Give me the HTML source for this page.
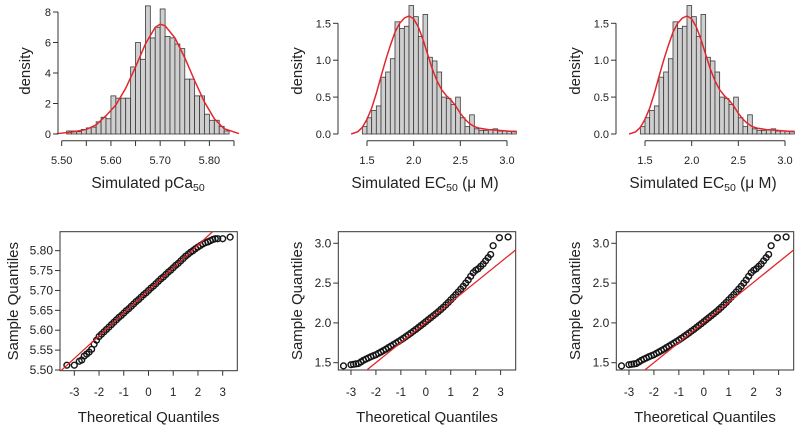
<!DOCTYPE html>
<html><head><meta charset="utf-8"><style>
html,body{margin:0;padding:0;background:#fff;}
svg{display:block;font-family:"Liberation Sans",Arial,sans-serif;}
</style></head><body>
<svg id="chart" width="800" height="428" viewBox="0 0 800 428" xmlns="http://www.w3.org/2000/svg">
<defs>
<clipPath id="clipL"><rect x="60" y="231.7" width="177.3" height="139"/></clipPath>
<clipPath id="clipM"><rect x="338.3" y="231.7" width="177.4" height="138.3"/></clipPath>
<clipPath id="clipR"><rect x="616.3" y="231.7" width="177.4" height="138.3"/></clipPath>
</defs>
</svg>
<script>
// ---- data ----
const pcaBinStart = 5.51;
const pcaBinWidth = 0.01;
const pcaDensity = [0.2,0.2,0.15,0.3,0.4,0.45,0.8,1.1,1.0,2.5,2.35,2.35,2.35,4.4,6.0,4.9,8.4,6.3,7.0,8.2,6.4,6.3,5.9,5.6,3.6,3.6,2.5,2.5,1.3,0.9,0.9,0.5,0.2];
const pcaCurveX = [5.49,5.52,5.55,5.57,5.59,5.61,5.63,5.65,5.67,5.69,5.70,5.71,5.73,5.75,5.77,5.79,5.81,5.83,5.86];
const pcaCurveY = [0.02,0.12,0.3,0.6,1.2,1.9,3.0,4.4,5.9,7.0,7.2,7.1,6.3,5.0,3.5,2.1,1.0,0.35,0.03];
const pcaXTicks = [5.50,5.55,5.60,5.65,5.70,5.75,5.80,5.85];
const pcaXLabels = ["5.50","","5.60","","5.70","","5.80",""];
const pcaYTicks = [0,2,4,6,8];

const ecBinStart = 1.45;
const ecBinWidth = 0.05;
const ecDensity = [0.1,0.22,0.32,0.38,0.77,0.84,1.02,1.52,1.43,1.46,1.74,1.59,1.32,1.62,1.04,0.99,0.84,0.5,0.48,0.4,0.5,0.22,0.1,0.26,0.07,0.05,0.05,0.06,0.07,0.04,0.04,0.04,0.04];
const ecCurveX = [1.33,1.40,1.45,1.50,1.55,1.60,1.65,1.70,1.75,1.80,1.85,1.90,1.95,2.00,2.05,2.10,2.15,2.20,2.25,2.30,2.35,2.40,2.45,2.50,2.55,2.60,2.65,2.70,2.80,2.90,3.00,3.10];
const ecCurveY = [0.0,0.03,0.09,0.2,0.35,0.55,0.78,1.0,1.2,1.38,1.5,1.57,1.6,1.56,1.45,1.28,1.08,0.88,0.72,0.6,0.52,0.46,0.38,0.28,0.2,0.14,0.1,0.08,0.06,0.05,0.04,0.03];
const ecXTicks = [1.5,2.0,2.5,3.0];
const ecXLabels = ["1.5","2.0","2.5","3.0"];
const ecYTicks = [0,0.5,1.0,1.5];
const ecYLabels = ["0.0","0.5","1.0","1.5"];

const pcaQ = [-3.3,-3.0,-2.8,-2.7,-2.6,-2.5,-2.4,-2.3,-2.2,-2.1,-2.0,-1.9,-1.8,-1.7,-1.6,-1.5,-1.4,-1.3,-1.2,-1.1,-1.0,-0.9,-0.8,-0.7,-0.6,-0.5,-0.4,-0.3,-0.2,-0.1,0,0.1,0.2,0.3,0.4,0.5,0.6,0.7,0.8,0.9,1.0,1.1,1.2,1.3,1.4,1.5,1.6,1.7,1.8,1.9,2.0,2.1,2.2,2.3,2.4,2.5,2.6,2.7,2.8,3.0,3.3];
const pcaS = [5.512,5.512,5.522,5.525,5.535,5.540,5.545,5.552,5.565,5.575,5.584,5.590,5.596,5.602,5.608,5.614,5.620,5.626,5.632,5.637,5.643,5.649,5.654,5.660,5.666,5.672,5.677,5.683,5.689,5.694,5.700,5.706,5.711,5.717,5.723,5.729,5.734,5.740,5.746,5.751,5.757,5.763,5.768,5.774,5.780,5.786,5.791,5.796,5.800,5.805,5.809,5.813,5.817,5.820,5.822,5.825,5.828,5.830,5.830,5.830,5.834];
const pcaLine = [5.70,0.057];

const ecQ = [-3.3,-3.0,-2.9,-2.8,-2.7,-2.6,-2.5,-2.4,-2.3,-2.2,-2.1,-2.0,-1.9,-1.8,-1.7,-1.6,-1.5,-1.4,-1.3,-1.2,-1.1,-1.0,-0.9,-0.8,-0.7,-0.6,-0.5,-0.4,-0.3,-0.2,-0.1,0,0.1,0.2,0.3,0.4,0.5,0.6,0.7,0.8,0.9,1.0,1.1,1.2,1.3,1.4,1.5,1.6,1.7,1.8,1.9,2.0,2.1,2.2,2.3,2.4,2.5,2.6,2.7,2.95,3.3];
const ecS = [1.46,1.475,1.48,1.485,1.49,1.51,1.53,1.545,1.56,1.575,1.588,1.600,1.617,1.634,1.652,1.670,1.690,1.708,1.727,1.746,1.765,1.785,1.806,1.828,1.850,1.872,1.895,1.918,1.942,1.966,1.990,2.015,2.040,2.065,2.090,2.115,2.140,2.168,2.196,2.226,2.257,2.290,2.322,2.355,2.389,2.424,2.460,2.500,2.540,2.585,2.630,2.660,2.680,2.710,2.740,2.780,2.820,2.860,2.970,3.070,3.080];
const ecLine = [2.006,0.2526];

const qqXTicks = [-3,-2,-1,0,1,2,3];
const pcaQYTicks = [5.50,5.55,5.60,5.65,5.70,5.75,5.80];
const ecQYTicks = [1.5,2.0,2.5,3.0];

// ---- drawing ----
const NS = "http://www.w3.org/2000/svg";
const svg = document.getElementById('chart');
function mk(tag, attrs, parent){
  const e = document.createElementNS(NS, tag);
  for (const k in attrs) e.setAttribute(k, attrs[k]);
  (parent||svg).appendChild(e);
  return e;
}
const AX = "#333", TX = "#222", RED = "#e3262b";

function histPanel(name, sx, sy, start, width, dens, cx, cy, xt, xl, yt, yl, axisX, xLab, sub, tail, ylabX){
  const g = mk('g', {});
  
  
  dens.forEach((d,i)=>{
    const x0 = sx(start + i*width), x1 = sx(start + (i+1)*width);
    const r = mk('rect', {x:x0, y:sy(d), width:x1-x0, height:sy(0)-sy(d), fill:"#cfcfcf", stroke:"#3a3a3a", 'stroke-width':0.8}, g);
    
    
  });
  const pts = cx.map((x,i)=>sx(x).toFixed(2)+','+sy(cy[i]).toFixed(2)).join(' ');
  const pl = mk('polyline', {points:pts, fill:'none', stroke:RED, 'stroke-width':1.5}, g);
  
  
  const xa = mk('g', {}, g);
  
  
  mk('line', {x1:sx(xt[0]), x2:sx(xt[xt.length-1]), y1:140.7, y2:140.7, stroke:AX, 'stroke-width':1}, xa);
  xt.forEach((t,i)=>{
    mk('line', {x1:sx(t), x2:sx(t), y1:140.7, y2:146, stroke:AX, 'stroke-width':1}, xa);
    if (xl[i]) { const tt = mk('text', {x:sx(t), y:164, 'text-anchor':'middle', 'font-size':11, fill:TX}, xa); tt.textContent = xl[i]; }
  });
  const ya = mk('g', {}, g);
  
  
  mk('line', {x1:axisX, x2:axisX, y1:sy(yt[0]), y2:sy(yt[yt.length-1]), stroke:AX, 'stroke-width':1}, ya);
  yt.forEach((t,i)=>{
    mk('line', {x1:axisX-5, x2:axisX, y1:sy(t), y2:sy(t), stroke:AX, 'stroke-width':1}, ya);
    const tt = mk('text', {x:axisX-7, y:sy(t)+4, 'text-anchor':'end', 'font-size':11, fill:TX}, ya); tt.textContent = yl[i];
  });
  const yt2 = mk('text', {x:ylabX, y:71, 'text-anchor':'middle', 'font-size':15, fill:TX, transform:`rotate(-90 ${ylabX} 71)`}, g);
  yt2.textContent = 'density';
  
  
  const xtl = mk('text', {x:xLab, y:188, 'text-anchor':'middle', 'font-size':15.5, fill:TX}, g);
  
  
  xtl.appendChild(document.createTextNode(sub[0]));
  const ts = mk('tspan', {'font-size':10.5, dy:3}, xtl); ts.textContent = sub[1];
  if (tail) { const t2 = mk('tspan', {dy:-3}, xtl); t2.textContent = tail; }
}

function qqPanel(name, sx, sy, box, clip, qs, ss, line, yt, yl, xOff){
  const g = mk('g', {});
  
  
  const b = mk('rect', {x:box[0], y:box[1], width:box[2]-box[0], height:box[3]-box[1], fill:'none', stroke:AX, 'stroke-width':1}, g);
  
  
  const pg = mk('g', {}, g);
  
  
  qs.forEach((q,i)=>{
    const c = mk('circle', {cx:sx(q), cy:sy(ss[i]), r:2.9, fill:'none', stroke:'#151515', 'stroke-width':1.4}, pg);
    
    
  });
  const ql = mk('line', {x1:sx(-5), y1:sy(line[0]+line[1]*-5), x2:sx(5), y2:sy(line[0]+line[1]*5), stroke:RED, 'stroke-width':1.3, 'clip-path':`url(#${clip})`}, g);
  
  
  const xa = mk('g', {}, g);
  
  
  qqXTicks.forEach(t=>{
    mk('line', {x1:sx(t), x2:sx(t), y1:box[3], y2:box[3]+5, stroke:AX, 'stroke-width':1}, xa);
    const tt = mk('text', {x:sx(t), y:396, 'text-anchor':'middle', 'font-size':11.5, fill:TX}, xa); tt.textContent = String(t);
  });
  const ya = mk('g', {}, g);
  
  
  yt.forEach((t,i)=>{
    mk('line', {x1:box[0]-5, x2:box[0], y1:sy(t), y2:sy(t), stroke:AX, 'stroke-width':1}, ya);
    const tt = mk('text', {x:box[0]-7, y:sy(t)+4, 'text-anchor':'end', 'font-size':12, fill:TX}, ya); tt.textContent = yl[i];
  });
  const xt = mk('text', {x:(box[0]+box[2])/2, y:422, 'text-anchor':'middle', 'font-size':15, fill:TX}, g);
  xt.textContent = 'Theoretical Quantiles';
  
  
  const yx = xOff, yy = (box[1]+box[3])/2;
  const ytt = mk('text', {x:yx, y:yy, 'text-anchor':'middle', 'font-size':15, fill:TX, transform:`rotate(-90 ${yx} ${yy})`}, g);
  ytt.textContent = 'Sample Quantiles';
  
  
}

histPanel('histogram-pca50', v=>61.7+(v-5.50)*492.3, v=>134-v*15.25, pcaBinStart, pcaBinWidth, pcaDensity, pcaCurveX, pcaCurveY,
  pcaXTicks, pcaXLabels, pcaYTicks, pcaYTicks.map(String), 58, 148, ['Simulated pCa','50'], '', 30);
[0,278].forEach((o,k)=>{
  histPanel(k?'histogram-ec50-right':'histogram-ec50', v=>367+o+(v-1.5)*93.33, v=>134-v*73.8, ecBinStart, ecBinWidth, ecDensity, ecCurveX, ecCurveY,
    ecXTicks, ecXLabels, ecYTicks, ecYLabels, 338+o, 425+o, ['Simulated EC','50'], ' (\u03bc M)', 302+o);
});
qqPanel('qq-plot-pca50', q=>148.5+q*24.73, v=>370-(v-5.50)*397.8, [60,231.7,237.3,370.7], 'clipL', pcaQ, pcaS, pcaLine,
  pcaQYTicks, pcaQYTicks.map(v=>v.toFixed(2)), 18);
[0,278].forEach((o,k)=>{
  qqPanel(k?'qq-plot-ec50-right':'qq-plot-ec50', q=>425.8+o+q*24.94, v=>362.7-(v-1.5)*79.6, [338.3+o,231.7,515.7+o,370], k?'clipR':'clipM', ecQ, ecS, ecLine,
    ecQYTicks, ecQYTicks.map(v=>v.toFixed(1)), 302+o);
});
</script>
</body></html>
